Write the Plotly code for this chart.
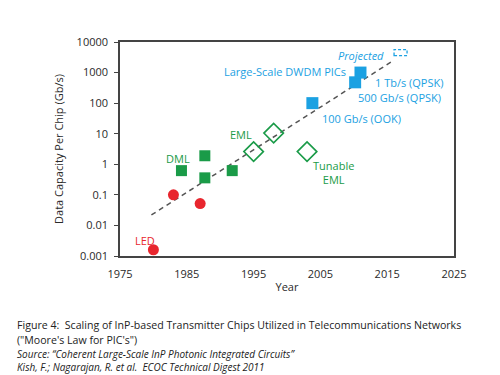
import plotly.graph_objects as go

# ---- data ----
led_years = [1980, 1983, 1987]
led_values = [0.0016, 0.1, 0.052]

dml_years = [1984.2, 1987.7, 1987.7, 1991.8]
dml_values = [0.62, 1.9, 0.36, 0.62]

eml_years = [1995, 1998, 2003]
eml_values = [2.6, 10.5, 2.6]

pic_years = [2003.8, 2010.2, 2011]
pic_values = [100, 480, 1000]

proj_year = [2017]
proj_value = [3600]

trend_years = [1979.7, 2015.7]
trend_values = [0.022, 2300]

x_ticks = [1975, 1985, 1995, 2005, 2015, 2025]
y_ticks = [0.001, 0.01, 0.1, 1, 10, 100, 1000, 10000]
y_tick_text = ["0.001", "0.01", "0.1", "1", "10", "100", "1000", "10000"]

RED = "#e8262e"
GREEN = "#1a9b48"
BLUE = "#1ba1e2"
FONT = "Open Sans"

fig = go.Figure()

fig.add_trace(go.Scatter(x=trend_years, y=trend_values, mode="lines",
                         line=dict(color="#555555", width=1.5, dash="5px,4px"),
                         hoverinfo="skip"))
fig.add_trace(go.Scatter(x=led_years, y=led_values, mode="markers",
                         marker=dict(symbol="circle", size=11, color=RED)))
fig.add_trace(go.Scatter(x=dml_years, y=dml_values, mode="markers",
                         marker=dict(symbol="square", size=11, color=GREEN)))
fig.add_trace(go.Scatter(x=eml_years, y=eml_values, mode="markers",
                         marker=dict(symbol="diamond-open", size=15, color=GREEN,
                                     line=dict(width=1.6, color=GREEN))))
fig.add_trace(go.Scatter(x=pic_years, y=pic_values, mode="markers",
                         marker=dict(symbol="square", size=12, color=BLUE)))

# projected: dashed outline square around the data point
fig.add_shape(type="rect", xref="x", yref="y",
              xsizemode="pixel", ysizemode="pixel",
              xanchor=proj_year[0], yanchor=proj_value[0],
              x0=-6.5, x1=6.5, y0=-6, y1=6,
              line=dict(color=BLUE, width=1.3, dash="3px,2px"))

def ann(x, ly, text, color, size=11, italic=False, align="center"):
    t = f"<i>{text}</i>" if italic else text
    fig.add_annotation(x=x, y=ly, xref="x", yref="y", text=t, showarrow=False,
                       font=dict(family=FONT, size=size, color=color), align=align)

ann(1978.7, -2.48, "LED", RED)
ann(1983.7, 0.2, "DML", GREEN)
ann(1993.1, 0.99, "EML", GREEN)
ann(2007.0, -0.27, "Tunable<br>EML", GREEN)
ann(1999.7, 3.05, "Large-Scale DWDM PICs", BLUE)
ann(2011.1, 3.57, "Projected", BLUE, italic=True)
ann(2018.4, 2.66, "1 Tb/s (QPSK)", BLUE)
ann(2016.8, 2.17, "500 Gb/s (QPSK)", BLUE)
ann(2011.2, 1.51, "100 Gb/s (OOK)", BLUE)

# caption (paper coords from pixel positions)
L, R, T, B = 112, 54, 34, 127
W, H = 500, 375
pw, ph = W - L - R, H - T - B
def px(xp):
    return (xp - L) / pw
def py(yp):
    return (H - B - yp) / ph

caption = [
    ("Figure 4:  Scaling of InP-based Transmitter Chips Utilized in Telecommunications Networks", 317, False),
    ("(\"Moore's Law for PIC's\")", 332, False),
    ("Source: “Coherent Large-Scale InP Photonic Integrated Circuits”", 346, True),
    ("Kish, F.; Nagarajan, R. et al.  ECOC Technical Digest 2011", 359, True),
]
for text, yp, it in caption:
    fig.add_annotation(x=px(7), y=py(yp), xref="paper", yref="paper",
                       xanchor="left", yanchor="middle", showarrow=False,
                       text=f"<i>{text}</i>" if it else text,
                       font=dict(family=FONT, size=10 if it else 10.6, color="#222222"))

fig.update_layout(
    width=W, height=H,
    margin=dict(l=L, r=R, t=T, b=B),
    paper_bgcolor="white", plot_bgcolor="white",
    showlegend=False,
    font=dict(family=FONT, size=11, color="#2a2a2a"),
    xaxis=dict(range=[1975, 2025], tickvals=x_ticks, showgrid=False, zeroline=False,
               showline=True, linecolor="#444444", linewidth=1.5, mirror=True,
               ticks="", ticklabelstandoff=7,
               title=dict(text="Year", standoff=3, font=dict(size=11))),
    yaxis=dict(type="log", range=[-3, 4], tickvals=y_ticks, ticktext=y_tick_text,
               showgrid=False, zeroline=False, showline=True, linecolor="#444444",
               linewidth=1.5, mirror=True, ticks="outside", ticklen=4,
               tickcolor="#444444", ticklabelstandoff=4,
               title=dict(text="Data Capacity Per Chip (Gb/s)", standoff=11, font=dict(size=11))),
)

fig.write_html("out.html")
